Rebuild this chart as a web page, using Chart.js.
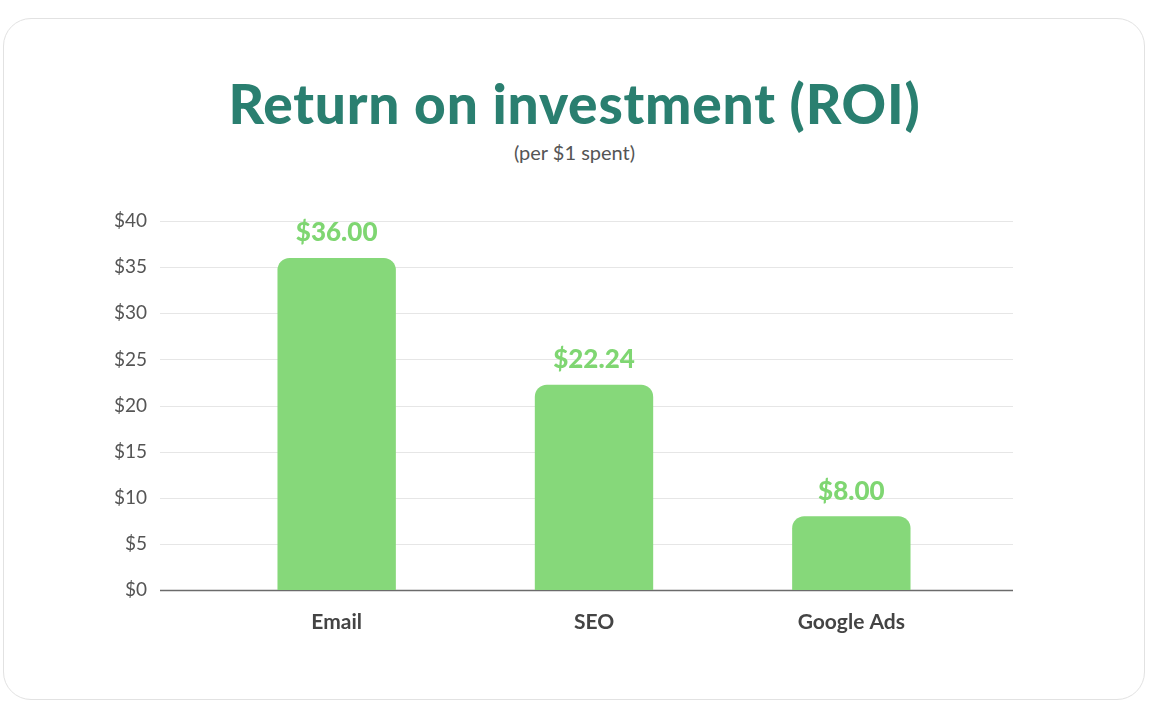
<!DOCTYPE html>
<html>
<head>
<meta charset="utf-8">
<script src="https://cdn.jsdelivr.net/npm/chart.js@4"></script>
<style>
  body { margin: 0; background: #fff; font-family: Lato, sans-serif; }
  .card { position: absolute; left: 3px; top: 18px; width: 1142px; height: 682px;
          border: 1.5px solid #e2e2e2; border-radius: 28px; box-sizing: border-box; }
  h1 { position: absolute; top: 70px; left: 0; width: 1149px; margin: 0; text-align: center;
       color: #2a7f70; font-size: 55px; font-weight: 900; letter-spacing: 0.8px; }
  .sub { position: absolute; top: 140px; left: 0; width: 1149px; text-align: center;
         color: #555; font-size: 20px; }
  canvas { position: absolute; left: 0; top: 0; }
</style>
</head>
<body>
<div class="card"></div>
<h1>Return on investment (ROI)</h1>
<div class="sub">(per $1 spent)</div>
<div style="position:absolute;left:0;top:0;width:1149px;height:720px"><canvas id="myChart"></canvas></div>
<script>
var categories = ['Email', 'SEO', 'Google Ads']
var roi = [36.00, 22.24, 8.00]
var yTicks = [0, 5, 10, 15, 20, 25, 30, 35, 40]

// grid lines run wider than the bars
var wideGrid = {
  id: 'wideGrid',
  beforeDatasetsDraw: function (chart) {
    var ctx = chart.ctx, y = chart.scales.y
    ctx.save()
    yTicks.forEach(function (t) {
      var py = Math.round(y.getPixelForValue(t)) + 0.5
      ctx.strokeStyle = t === 0 ? '#6b6b6b' : '#e6e6e6'
      ctx.lineWidth = t === 0 ? 1.5 : 1.2
      ctx.beginPath(); ctx.moveTo(160, py); ctx.lineTo(1013, py); ctx.stroke()
    })
    ctx.restore()
  },
  afterDatasetsDraw: function (chart) {
    var ctx = chart.ctx
    ctx.save()
    ctx.fillStyle = '#7fd672'
    ctx.font = '900 26px Lato'
    ctx.textAlign = 'center'
    ctx.textBaseline = 'bottom'
    chart.getDatasetMeta(0).data.forEach(function (bar, i) {
      ctx.fillText('$' + roi[i].toFixed(2), bar.x, bar.y - 12)
    })
    ctx.restore()
  }
}

var ctx = document.getElementById('myChart').getContext('2d')
var chart = new Chart(ctx, {
  type: 'bar',
  data: {
    labels: categories,
    datasets: [{
      data: roi,
      backgroundColor: '#86d87a',
      borderRadius: { topLeft: 12, topRight: 12 },
      borderSkipped: 'bottom',
      barPercentage: 0.92,
      categoryPercentage: 0.5
    }]
  },
  options: {
    responsive: true,
    maintainAspectRatio: false,
    animation: false,
    layout: { padding: { left: 0, right: 169, top: 221, bottom: 80 } },
    plugins: { legend: { display: false }, tooltip: { enabled: false } },
    scales: {
      x: {
        grid: { display: false, drawTicks: false },
        border: { display: false },
        ticks: { color: '#444', font: { family: 'Lato', size: 21, weight: 'bold' }, padding: 20 },
        afterFit: function (s) { s.height = 50 }
      },
      y: {
        min: 0, max: 40,
        grid: { display: false, drawTicks: false },
        border: { display: false },
        ticks: {
          stepSize: 5,
          color: '#555',
          font: { family: 'Lato', size: 19 },
          padding: 61,
          callback: function (v) { return '$' + v }
        },
        afterFit: function (s) { s.width = 208 }
      }
    }
  },
  plugins: [wideGrid]
})
</script>
</body>
</html>
